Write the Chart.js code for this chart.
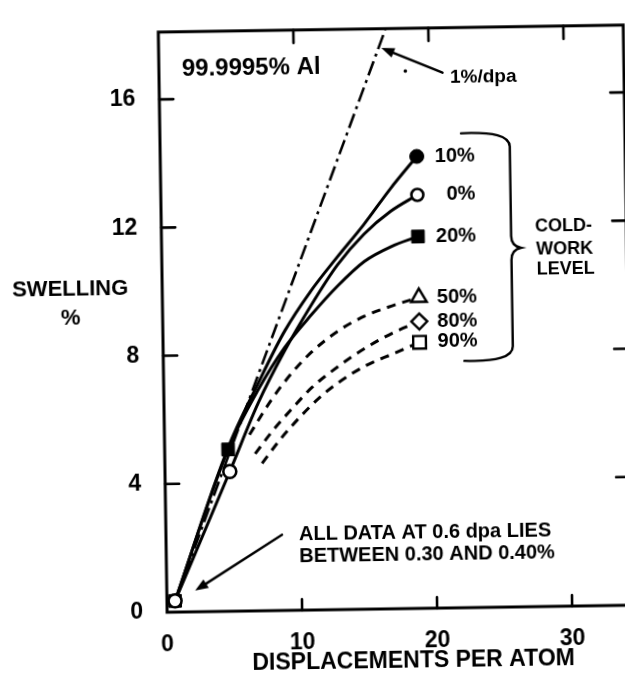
<!DOCTYPE html>
<html>
<head>
<meta charset="utf-8">
<script src="https://cdn.jsdelivr.net/npm/chart.js@4/dist/chart.umd.min.js"></script>
<style>
  html, body { margin: 0; padding: 0; background: #fff; overflow: hidden; width: 625px; height: 680px; }
  #wrap { width: 640px; height: 680px; transform: rotate(-0.87deg); transform-origin: 312.5px 340px; }
  canvas { display: block; }
</style>
</head>
<body>
<div id="wrap"><canvas id="c" width="640" height="680"></canvas></div>
<script>
// Swelling of 99.9995% Al versus dose, by cold-work level
const xTicks = [0, 10, 20, 30];
const yTicks = [0, 4, 8, 12, 16];

const dpa10  = [0.6, 4.7, 7, 9, 11, 13, 15, 17, 19];
const sw10   = [0.35, 5.1, 7.1, 8.7, 9.95, 11.0, 12.0, 13.1, 14.1];

const dpa0   = [0.6, 4.8, 7, 9, 11, 13, 15, 17, 19];
const sw0    = [0.35, 4.36, 6.5, 8.1, 9.5, 10.75, 11.7, 12.4, 12.9];

const dpa20  = [0.6, 4.7, 7, 9, 11, 13, 15, 17, 19];
const sw20   = [0.35, 5.05, 6.9, 8.2, 9.2, 10.1, 10.85, 11.3, 11.6];

const dpa50  = [6.3, 8, 9.5, 11, 13, 15, 17, 19];
const sw50   = [5.5, 6.6, 7.4, 8.05, 8.7, 9.15, 9.45, 9.7];

const dpa80  = [6.7, 8, 9.5, 11, 13, 15, 17, 19];
const sw80   = [4.9, 5.6, 6.3, 6.95, 7.6, 8.15, 8.6, 8.95];

const dpa90  = [7.2, 8.5, 10, 11.6, 13, 15, 17, 19];
const sw90   = [4.6, 5.3, 6.0, 6.65, 7.1, 7.6, 7.95, 8.3];

// reference rate line labelled 1%/dpa
const dpaRate = [0.6, 16.8];
const swRate  = [0.35, 18.06];

const FONT = '"Liberation Sans", Arial, sans-serif';

function pts(xs, ys) { return xs.map((x, i) => ({ x, y: ys[i] })); }
function radii(n, idx, r) { return Array.from({ length: n }, (_, i) => (idx.includes(i) ? r : 0)); }

const datasets = [
  { label: '0%', data: pts(dpa0, sw0), borderColor: '#000', borderWidth: 3,
    pointStyle: 'circle', pointRadius: [6.5, 6.5, 0, 0, 0, 0, 0, 0, 6],
    pointBackgroundColor: '#fff', pointBorderColor: '#000', pointBorderWidth: 2.6 },
  { label: '10%', data: pts(dpa10, sw10), borderColor: '#000', borderWidth: 3,
    pointStyle: 'circle', pointRadius: radii(dpa10.length, [dpa10.length - 1], 7),
    pointBackgroundColor: '#000', pointBorderColor: '#000', pointBorderWidth: 1 },
  { label: '20%', data: pts(dpa20, sw20), borderColor: '#000', borderWidth: 3,
    pointStyle: 'rect', pointRadius: radii(dpa20.length, [0, 1, dpa20.length - 1], 9),
    pointBackgroundColor: '#000', pointBorderColor: '#000', pointBorderWidth: 1 },
  { label: '50%', data: pts(dpa50, sw50), borderColor: '#000', borderWidth: 3, borderDash: [9, 7],
    pointStyle: 'triangle', pointRadius: radii(dpa50.length, [dpa50.length - 1], 9),
    pointBackgroundColor: '#fff', pointBorderColor: '#000', pointBorderWidth: 2.4 },
  { label: '80%', data: pts(dpa80, sw80), borderColor: '#000', borderWidth: 3, borderDash: [9, 7],
    pointStyle: 'rectRot', pointRadius: radii(dpa80.length, [dpa80.length - 1], 8),
    pointBackgroundColor: '#fff', pointBorderColor: '#000', pointBorderWidth: 2.4 },
  { label: '90%', data: pts(dpa90, sw90), borderColor: '#000', borderWidth: 3, borderDash: [9, 7],
    pointStyle: 'rect', pointRadius: radii(dpa90.length, [dpa90.length - 1], 9),
    pointBackgroundColor: '#fff', pointBorderColor: '#000', pointBorderWidth: 2.4 },
  { label: '1%/dpa', data: pts(dpaRate, swRate), borderColor: '#000', borderWidth: 2.6,
    borderDash: [15, 5, 3, 5], pointRadius: 0, cubicInterpolationMode: 'default', tension: 0 }
];
datasets.forEach(d => { if (d.cubicInterpolationMode === undefined) d.cubicInterpolationMode = 'monotone'; d.fill = false; });

// frame, inward ticks, labels and callouts
const decor = {
  id: 'decor',
  afterDatasetsDraw(chart) {
    const { ctx, chartArea: a, scales: { x, y } } = chart;
    const X = v => x.getPixelForValue(v), Y = v => y.getPixelForValue(v);
    ctx.save();
    ctx.strokeStyle = '#000';
    ctx.fillStyle = '#000';
    ctx.lineCap = 'round';

    // frame
    ctx.lineWidth = 3;
    ctx.strokeRect(a.left, a.top, a.right - a.left, a.bottom - a.top);

    // tick marks pointing inside
    ctx.lineWidth = 2.6;
    ctx.beginPath();
    yTicks.slice(1).forEach(v => {
      ctx.moveTo(a.left, Y(v)); ctx.lineTo(a.left + 14, Y(v));
      ctx.moveTo(a.right, Y(v)); ctx.lineTo(a.right - 14, Y(v));
    });
    xTicks.slice(1).forEach(v => {
      ctx.moveTo(X(v), a.bottom); ctx.lineTo(X(v), a.bottom - 11);
      ctx.moveTo(X(v), a.top); ctx.lineTo(X(v), a.top + 13);
    });
    ctx.stroke();

    // series labels at the end of each curve
    ctx.font = 'bold 20px ' + FONT;
    ctx.textAlign = 'right';
    ctx.textBaseline = 'middle';
    [[sw10, '10%'], [sw0, '0%'], [sw20, '20%'], [sw50, '50%'], [sw80, '80%'], [sw90, '90%']]
      .forEach(([s, t]) => ctx.fillText(t, X(23.3), Y(s[s.length - 1])));

    // brace grouping the cold-work levels
    const bx = X(25.9), tip = X(26.6), bl = X(22.3);
    const bt = Y(14.8), bm = Y(11.2), bb = Y(7.7);
    ctx.lineWidth = 2.4;
    ctx.beginPath();
    ctx.moveTo(bl, bt);
    ctx.quadraticCurveTo(bx, bt - 2, bx, bt + 14);
    ctx.lineTo(bx, bm - 12);
    ctx.quadraticCurveTo(bx, bm - 2, tip, bm);
    ctx.quadraticCurveTo(bx, bm + 2, bx, bm + 12);
    ctx.lineTo(bx, bb - 14);
    ctx.quadraticCurveTo(bx, bb + 2, bl, bb);
    ctx.stroke();

    ctx.font = 'bold 18px ' + FONT;
    ctx.textAlign = 'center';
    ctx.fillText('COLD-', X(29.8), Y(11.85));
    ctx.fillText('WORK', X(29.85), Y(11.15));
    ctx.fillText('LEVEL', X(29.9), Y(10.5));

    // material note
    ctx.font = 'bold 24px ' + FONT;
    ctx.textAlign = 'left';
    ctx.fillText('99.9995% Al', X(1.7), Y(16.94));

    // rate line callout
    ctx.font = 'bold 19px ' + FONT;
    ctx.fillText('1%/dpa', X(21.55), Y(16.53));
    arrow(ctx, X(21.0), Y(16.7), X(16.5), Y(17.5));
    ctx.beginPath(); ctx.arc(X(18.25), Y(16.77), 1.8, 0, Math.PI * 2); ctx.fill();

    // low-dose callout
    ctx.font = 'bold 20px ' + FONT;
    ctx.fillText('ALL DATA AT 0.6 dpa LIES', X(9.85), Y(2.35));
    ctx.fillText('BETWEEN 0.30 AND 0.40%', X(9.85), Y(1.68));
    arrow(ctx, X(8.6), Y(2.36), X(2.1), Y(0.66));

    // axis titles
    ctx.font = 'bold 22px ' + FONT;
    ctx.textAlign = 'center';
    ctx.fillText('SWELLING', a.left - 92, Y(10.1));
    ctx.fillText('%', a.left - 92, Y(9.2));
    ctx.font = 'bold 23px ' + FONT;
    ctx.fillText('DISPLACEMENTS PER ATOM', X(18.2), a.bottom + 53);
    ctx.restore();
  }
};

function arrow(ctx, x1, y1, x2, y2) {
  const ang = Math.atan2(y2 - y1, x2 - x1), L = 13, W = 5;
  ctx.lineWidth = 2.4;
  ctx.beginPath();
  ctx.moveTo(x1, y1);
  ctx.lineTo(x2 - Math.cos(ang) * L * 0.8, y2 - Math.sin(ang) * L * 0.8);
  ctx.stroke();
  ctx.beginPath();
  ctx.moveTo(x2, y2);
  ctx.lineTo(x2 - Math.cos(ang) * L - Math.sin(ang) * W, y2 - Math.sin(ang) * L + Math.cos(ang) * W);
  ctx.lineTo(x2 - Math.cos(ang) * L + Math.sin(ang) * W, y2 - Math.sin(ang) * L - Math.cos(ang) * W);
  ctx.closePath();
  ctx.fill();
}

const tickFont = { family: FONT, weight: 'bold', size: 23 };

new Chart(document.getElementById('c'), {
  type: 'line',
  data: { datasets },
  options: {
    responsive: false,
    animation: false,
    devicePixelRatio: 1,
    layout: { padding: { top: 15, right: 12, bottom: 0, left: 0 } },
    plugins: { legend: { display: false }, tooltip: { enabled: false } },
    elements: { line: { borderCapStyle: 'butt' } },
    scales: {
      x: {
        type: 'linear', min: 0, max: 34.44,
        grid: { display: false }, border: { display: false },
        ticks: { stepSize: 10, includeBounds: false, color: '#000', font: tickFont, padding: 11,
                 callback: v => (xTicks.includes(v) ? String(v) : '') },
        afterFit: s => { s.height = 70; }
      },
      y: {
        type: 'linear', min: 0, max: 18.1,
        grid: { display: false }, border: { display: false },
        ticks: { stepSize: 4, includeBounds: false, color: '#000', font: tickFont, padding: 16,
                 callback: v => (yTicks.includes(v) ? String(v) : '') },
        afterFit: s => { s.width = 163; }
      }
    }
  },
  plugins: [decor]
});
</script>
</body>
</html>
